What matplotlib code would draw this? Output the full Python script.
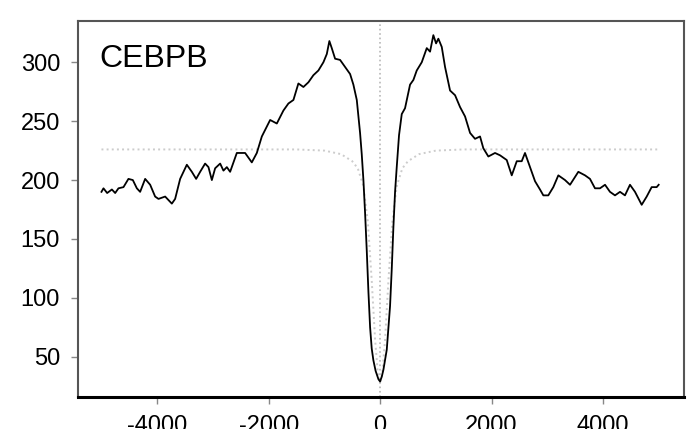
import numpy as np
import matplotlib
matplotlib.use("Agg")
import matplotlib.pyplot as plt

plt.rcParams['font.family'] = ['Liberation Sans', 'DejaVu Sans']
plt.rcParams['axes.unicode_minus'] = False

pos = [-5000, -4964, -4898, -4813, -4754, -4695, -4605, -4516, -4437, -4365,
       -4306, -4216, -4126, -4037, -3977, -3857, -3737, -3678, -3588, -3468,
       -3378, -3301, -3229, -3140, -3080, -3019, -2960, -2870, -2811, -2750,
       -2691, -2571, -2481, -2422, -2302, -2212, -2122, -2004, -1973, -1853,
       -1735, -1645, -1555, -1466, -1376, -1286, -1197, -1107, -1017, -956,
       -910, -867, -807, -718, -628, -538, -479, -418, -359, -329,
       -299, -269, -239, -209, -179, -150, -120, -80, -30, 0,
       30, 60, 120, 179, 210, 239, 269, 299, 340, 389,
       448, 538, 598, 658, 748, 838, 897, 956, 1005, 1046,
       1107, 1166, 1256, 1346, 1435, 1525, 1615, 1704, 1794, 1853,
       1943, 2063, 2153, 2273, 2363, 2453, 2542, 2601, 2691, 2781,
       2870, 2930, 3019, 3109, 3199, 3319, 3409, 3558, 3678, 3767,
       3857, 3947, 4037, 4126, 4216, 4306, 4395, 4485, 4575, 4695,
       4785, 4874, 4964, 5000]
signal = [190, 193, 189, 192, 189, 193, 194, 201, 200, 193,
          190, 201, 196, 186, 184, 186, 180, 184, 201, 213,
          207, 201, 207, 214, 211, 200, 210, 214, 208, 211,
          207, 223, 223, 223, 215, 223, 237, 248, 251, 248,
          259, 265, 268, 282, 279, 283, 289, 293, 300, 307,
          318, 312, 303, 302, 296, 290, 281, 268, 240, 222,
          200, 172, 140, 105, 75, 57, 47, 38, 31, 29,
          33, 39, 56, 93, 125, 160, 190, 211, 238, 256,
          261, 281, 285, 293, 300, 312, 309, 323, 316, 320,
          313, 296, 276, 272, 262, 254, 240, 235, 237, 227,
          220, 223, 221, 217, 204, 216, 216, 223, 211, 199,
          192, 187, 187, 194, 204, 200, 196, 207, 204, 201,
          193, 193, 196, 190, 187, 190, 187, 196, 190, 179,
          186, 194, 194, 196]

# expected background profile (grey dotted line)
bg_pos = [-5000, -1500, -1000, -700, -500, -400, -300, -220, -150, -90,
          -40, 0, 40, 90, 150, 220, 300, 400, 500, 700,
          1000, 1500, 5000]
bg_val = [226, 226, 225, 222, 216, 210, 195, 165, 115, 65,
          36, 28, 36, 65, 115, 165, 195, 210, 216, 222,
          225, 226, 226]

label = "CEBPB"

fig = plt.figure(figsize=(6.97, 4.29), dpi=100)
ax = fig.add_axes([0.112, 0.075, 0.869, 0.876])

ax.plot(bg_pos, bg_val, color='#cccccc', lw=1.4, ls=':')
ax.axvline(0, color='#b8b8b8', lw=1.2, ls=':')
ax.plot(pos, signal, color='black', lw=1.3)

ax.set_xlim(-5420, 5450)
ax.set_ylim(16, 335)
ax.set_xticks([-4000, -2000, 0, 2000, 4000])
ax.set_yticks([50, 100, 150, 200, 250, 300])
ax.tick_params(axis='both', labelsize=17, colors='#888888', labelcolor='black',
               length=5, width=1)
ax.tick_params(axis='y', pad=8)
ax.tick_params(axis='x', pad=8)

for side in ['top', 'left', 'right']:
    ax.spines[side].set_color('#555555')
    ax.spines[side].set_linewidth(1.5)
ax.spines['bottom'].set_color('black')
ax.spines['bottom'].set_linewidth(2.2)

ax.text(0.036, 0.94, label, transform=ax.transAxes, fontsize=23,
        va='top', ha='left')

fig.savefig("out.png", dpi=100)
